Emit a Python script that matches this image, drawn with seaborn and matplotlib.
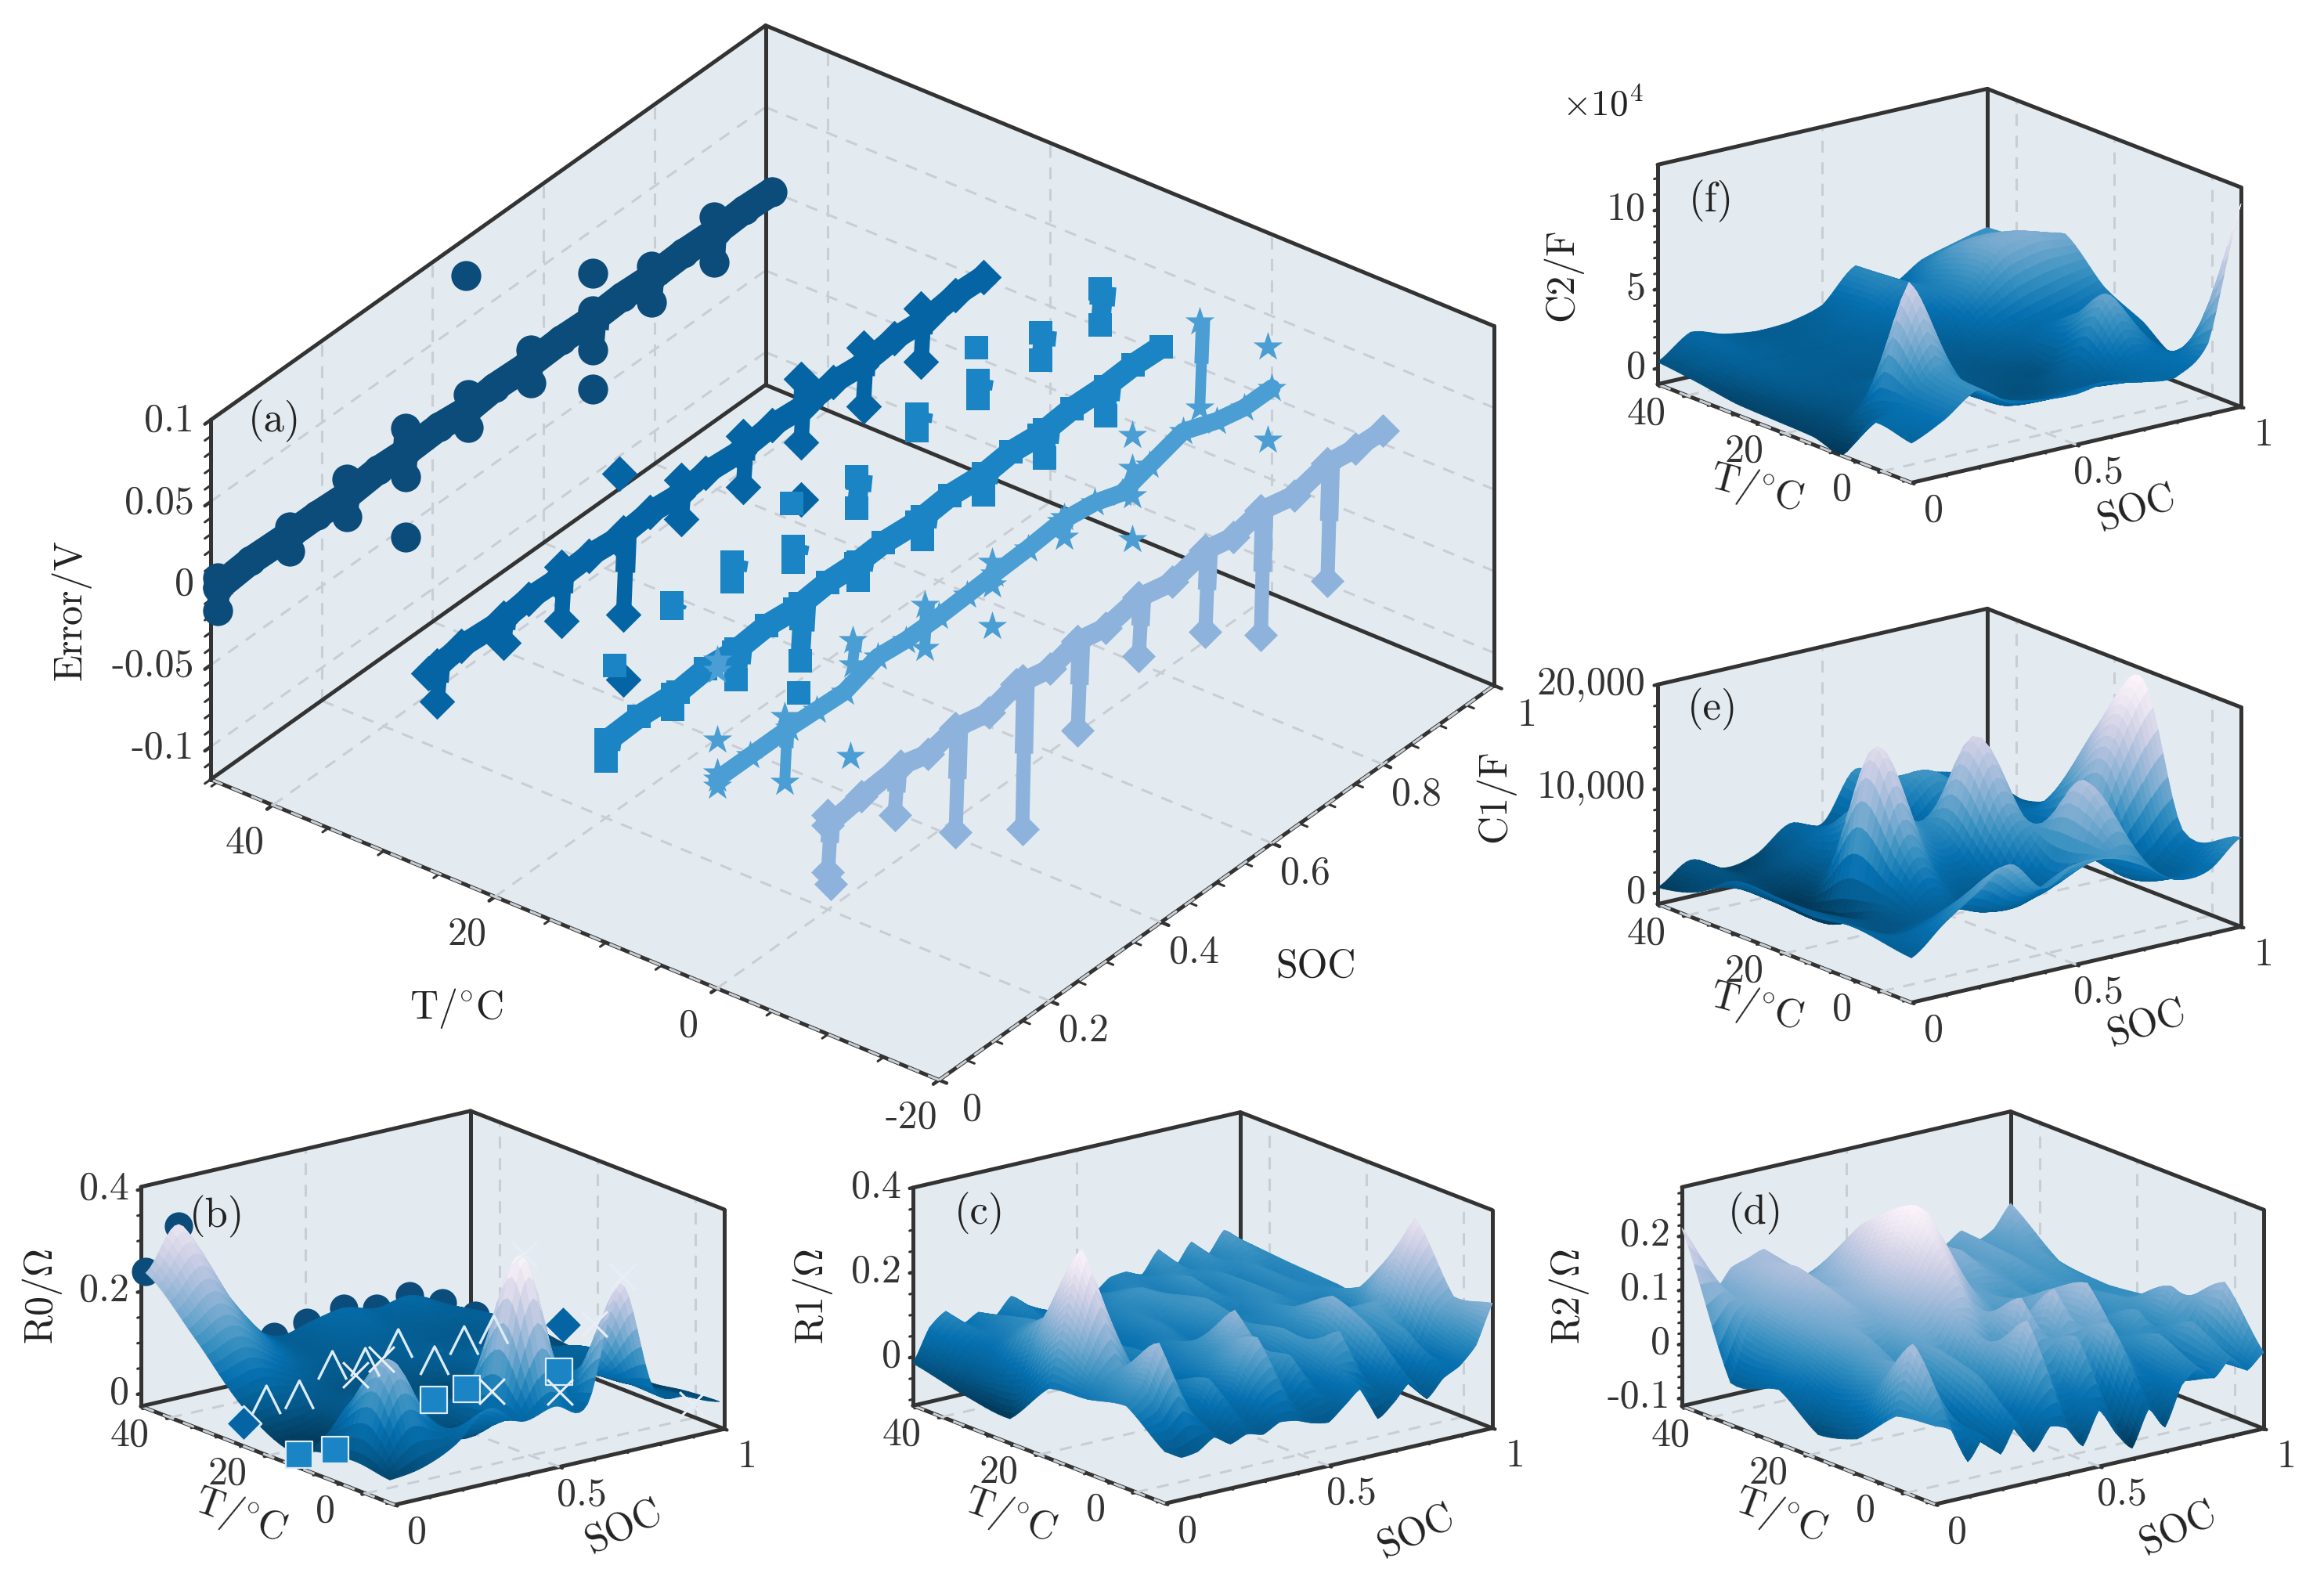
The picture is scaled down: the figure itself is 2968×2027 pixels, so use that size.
import numpy as np
import matplotlib
matplotlib.use("Agg")
import matplotlib.pyplot as plt
import seaborn as sns
from matplotlib.path import Path
from mpl_toolkits.mplot3d import proj3d

# ---------------- panel (a) series ----------------
line_soc = [0, .06, .13, .18, .23, .29, .34, .40, .45, .50, .56, .62, .68, .73, .78, .84, .90, .95, 1.0]
t_series = [45, 26, 10, 0, -10]
err_1 = [-.001, .001, 0, 0, -.001, .001, 0, .001, -.001, .001, 0, .001, 0, .001, 0, .001, 0, .001, 0]
err_2 = [0, .002, 0, .002, .001, .002, 0, .002, 0, .002, 0, .002, 0, .002, 0, .002, 0, .002, .001]
err_3 = [.003, .004, .002, .004, .002, .004, .002, .004, .003, .004, .002, .004, .002, .004, .002, .004, .003, .004, .003]
err_4 = [.008, .008, .008, .007, .006, .013, .011, .011, .012, .013, .014, .016, .013, .007, .012, .018, .010, .006, .006]
err_5 = [.008, .011, .013, .008, .012, .007, .012, .007, .012, .008, .012, .007, .012, .008, .012, .007, .012, .009, .008]

spike_soc_1 = [0, .13, .234, .339, .452, .565, .677, .782, .895]
spike_hi_1 = [.005, .005, .009, .015, .008, .008, .005, .007, .010]
spike_lo_1 = [-.015, -.010, -.014, -.015, -.012, -.012, -.019, -.015, -.018]
iso_soc_1 = [.339, .448, .677, .677]
iso_err_1 = [-.052, .082, .028, -.043]

spike_soc_2 = [.016, .136, .24, .352, .456, .568, .672, .784, .888]
spike_hi_2 = [.001, .001, .007, .001, .008, .008, .018, .010, .009]
spike_lo_2 = [-.021, -.014, -.026, -.049, -.016, -.023, -.021, -.026, -.024]
iso_soc_2 = [.344, .352, .672]
iso_err_2 = [.039, -.089, -.056]

spike_soc_3 = [0, .12, .235, .35, .455, .57, .68, .79, .90,
               .119, .228, .338, .452, .561, .67, .784, .891]
spike_hi_3 = [.004, .003, .003, .003, .003, .003, .003, .003, .003,
              .059, .058, .041, .056, .068, .062, .064, .065]
spike_lo_3 = [-.009, -.006, -.016, -.032, -.008, -.011, -.010, -.014, -.015,
              .056, .046, .031, .037, .058, .051, .047, .043]
iso_soc_3 = [.347, .335, .667, .016]
iso_err_3 = [-.051, .068, .083, .0455]

spike_soc_4 = [0, 0, .122, .244, .374, .496, .626, .748, .87]
spike_hi_4 = [.012, .081, .017, .034, .024, .021, .017, .018, .078]
spike_lo_4 = [.004, .075, -.023, .019, -.002, .007, .005, .001, .025]
iso_soc_4 = [0, .24, .496, .748, .748, .992, .992]
iso_err_4 = [.032, -.036, -.018, .038, -.026, .033, -.024]

spike_soc_5 = [0, .12, .23, .35, .45, .56, .68, .78, .90]
spike_hi_5 = [.014, .012, .012, .012, .012, .012, .012, .012, .012]
spike_lo_5 = [-.021, -.015, -.052, -.079, -.043, -.024, -.038, -.064, -.060]
iso_soc_5 = [.005]
iso_err_5 = [-.029]

series_colors = ["#0B4C7A", "#0565A4", "#1A84C4", "#4B9ED3", "#8DB3DC"]
series_markers = ["o", "D", "s", "*", "D"]
series_sizes = [190, 135, 120, 200, 120]
line_widths = [13, 10.5, 10.5, 8, 9]
stem_widths = [10, 7, 9, 5, 6.5]

# ---------------- surfaces ----------------
soc11 = [0, .1, .2, .3, .4, .5, .6, .7, .8, .9, 1.0]
soc21 = [0, .05, .1, .15, .2, .25, .3, .35, .4, .45, .5, .55, .6, .65, .7, .75, .8, .85, .9, .95, 1.0]

t_b = [45, 35, 25, 15, 10, 2, -5]
r0 = [[.24, .32, .20, .10, .057, .07, .082, .067, .077, .048, .01],
      [.15, .18, .12, .07, .05, .06, .06, .05, .05, .06, .03],
      [.05, .06, .05, .04, .04, .04, .05, .06, .05, .04, .02],
      [.0, .01, .05, .06, .04, .03, .02, .13, .06, .07, .03],
      [.02, .10, .12, .05, .05, .10, .06, .08, .06, .03, .01],
      [.03, .21, .10, .03, .07, .36, .08, .12, .07, .04, .02],
      [.02, .03, .06, .115, .075, .09, .08, .30, .08, .05, .025]]

t_fine = [46, 36, 26, 18, 10, 2, -6]
r1 = [[-.015, .06, .09, .05, .07, .05, .09, .06, .04, .03, .06, .05, .08, .085, .07, .12, .07, .12, .08, .13, .10],
      [-.042, .01, .05, .08, .10, .06, .05, .04, .07, .08, .10, .11, .09, .07, .11, .07, .10, .07, .10, .08, .09],
      [-.057, .06, .16, .17, .12, .08, .07, .05, .06, .09, .07, .10, .12, .08, .07, .09, .10, .08, .09, .085, .083],
      [.05, .20, .36, .25, .12, .06, .08, .06, .09, .07, .05, .08, .10, .07, .09, .11, .06, .08, .05, .12, .076],
      [.06, .10, .12, .07, .04, .06, .03, .08, .12, .19, .08, .06, .12, .05, .09, .17, .06, .13, .14, .24, .31],
      [.08, .12, .21, .08, .03, .10, .04, .12, .17, .06, .11, .04, .10, .14, .04, .13, .03, .11, .05, .13, .16],
      [.007, -.015, -.01, .015, -.01, .005, -.005, .015, .01, -.005, -.012, .02, .05, -.03, .0, .04, -.01, .03, .05, .09, .18]]
r2 = [[.214, .16, .085, .12, .13, .14, .10, .07, .08, .09, .10, .09, .11, .10, .09, .08, .07, .09, .065, .08, .12],
      [-.037, .05, .10, .13, .15, .12, .10, .14, .20, .18, .14, .12, .10, .09, .11, .08, .07, .08, .06, .07, .048],
      [-.015, .03, .08, .10, .12, .10, .14, .20, .27, .25, .19, .12, .08, .07, .05, .06, .04, .05, .05, .04, .039],
      [-.07, .0, .06, .09, .05, .08, .12, .15, .19, .13, .08, .06, .05, .08, .10, .07, .04, .03, .06, .05, .048],
      [-.05, .03, .08, .05, .02, .08, .04, .10, .06, .04, .14, .05, .143, .06, .14, .05, .03, .07, .03, .10, .07],
      [.02, .146, .08, .0, -.03, .06, .0, .05, .14, .03, .01, .09, .0, .10, .03, .0, .06, -.03, .07, .0, .128],
      [.03, .015, -.05, -.01, -.05, 0, -.06, -.02, -.03, -.07, -.01, -.06, -.095, -.03, -.07, .0, .025, .0, .03, .0, .026]]

t_c1 = [46, 38, 30, 22, 14, 6, -6]
c1 = [[500, 2400, 900, 1500, 3700, 3000, 7500, 5000, 5600, 5000, 4000],
      [1500, 2000, 1500, 3000, 5000, 4000, 6000, 8000, 6000, 4500, 3000],
      [4000, 1500, 300, 4000, 9000, 6000, 3000, 4000, 5000, 4500, 5500],
      [3800, 2000, 1000, 16000, 9000, 7000, 15000, 8000, 3000, 9000, 14000],
      [3500, 2500, 2500, 8000, 4000, 4000, 9000, 6000, 4000, 13000, 19000],
      [4000, 2500, 3000, 3500, 2500, 2500, 5000, 13000, 3500, 3500, 6000],
      [3200, 5800, 8000, 10000, 7000, 8500, 8400, 7000, 4900, 5000, 7500]]

t_c2 = [46, 38, 30, 22, 14, 8, 2, -6]
c2 = [[.4, 1.8, 1.2, .9, 1.0, 1.6, 3.6, 1.8, 3.0, 3.6, 4.1],
      [.1, 1.5, 1.2, 1.0, 1.3, 2.0, 3.5, 3.0, 5.0, 5.2, 4.4],
      [-.3, 1.0, 1.0, 1.0, 1.2, 1.5, 1.5, 3.5, 5.5, 6.0, 5.6],
      [-.4, .5, .8, .8, 1.0, .8, .7, 1.5, 2.0, 2.5, 3.2],
      [-.5, .3, 1.5, 3.0, .7, .5, .3, .4, 3.5, 2.5, 1.95],
      [-.9, 2.0, 9.0, 3.5, .8, .3, .3, 1.5, 5.4, 2.5, .6],
      [1.9, 2.5, 4.5, 2.5, 1.0, .8, 1.0, 1.0, 2.5, 2.0, 1.5],
      [1.5, 2.5, 3.9, 2.6, 2.3, 2.2, 2.5, 2.0, 1.8, 3.5, 11.8]]

# markers showing through panel (b)
b_circle_soc = [0, .10, .39, .49, .60, .70, .80, .90, 1.0]
b_circle_val = [.243, .317, .057, .07, .082, .067, .077, .048, .009]
b_dia_soc = [.07, .17, .27, .37, .47, .58, .67, .76]
b_dia_val = [.055, .05, .093, .084, .106, .056, .082, .09]
b_sq_soc = [.02, .13, .43, .53, .81]
b_sq_val = [-.008, -.015, .039, .045, .037]
b_x_soc = [.0, .077, .51, .31, .515, .62, .705, .917]
b_x_t = [2, 2, 2, -5, -5, -5, -5, -5]
b_x_val = [.20, .22, .36, .147, .116, .233, .313, .031]

z_ticks_a = [-.1, -.05, 0, .05, .1]
z_labels_a = ["-0.1", "-0.05", "0", "0.05", "0.1"]

# ---------------- style ----------------
sns.set_theme(style="white")
plt.rcParams["font.family"] = ["cmr10", "DejaVu Serif"]
plt.rcParams["mathtext.fontset"] = "cm"
plt.rcParams["axes.formatter.use_mathtext"] = True
plt.rcParams["axes.unicode_minus"] = False
INK = "#333333"
PANE = "#E4EBF0"
GRID = "#C8CED3"
FS = 18
cmap = sns.color_palette("PuBu_r", as_cmap=True)
W, H = 2968, 2027
fig = plt.figure(figsize=(W / 200, H / 200), dpi=200, facecolor="white")


def place(ax, x0, x1, ytop, ybot):
    """Scale and shift the 3D axes so its box spans these pixel bounds."""
    S = 1000.0
    ax.set_position([(W / 2 - S / 2) / W, (H / 2 - S / 2) / H, S / W, S / H])
    ax.apply_aspect()
    xl, yl, zl = ax.get_xlim(), ax.get_ylim(), ax.get_zlim()
    px = []
    for a in xl:
        for b in yl:
            for c in zl:
                u, v, _ = proj3d.proj_transform(a, b, c, ax.get_proj())
                px.append(ax.transData.transform((u, v)))
    px = np.array(px)
    k = (x1 - x0) / (px[:, 0].max() - px[:, 0].min())
    bx = (px[:, 0].max() + px[:, 0].min()) / 2 - W / 2
    by = (px[:, 1].max() + px[:, 1].min()) / 2 - H / 2
    cx = (x0 + x1) / 2 - bx * k
    cy = H - (ytop + ybot) / 2 - by * k
    S2 = S * k
    ax.set_position([(cx - S2 / 2) / W, (cy - S2 / 2) / H, S2 / W, S2 / H])


def frame(ax, xlim, ylim, zlim, xt, xl, xm, yt, yl, ym, zt, zl, zm, zgrid, pad=(1, 1, 1), vay="bottom"):
    ax.set_facecolor("none")
    ax.patch.set_alpha(0)
    ax.grid(False)
    for axis in (ax.xaxis, ax.yaxis, ax.zaxis):
        axis.set_pane_color(PANE)
        axis.pane.set_edgecolor("none")
        axis.line.set_color(INK)
        axis.line.set_linewidth(1.8)
        axis._axinfo["tick"].update(inward_factor=.13, outward_factor=0,
                                    color=INK, linewidth={True: 1.6, False: 1.1})
    ax.set_xticks(xt, labels=xl, fontsize=FS)
    ax.set_yticks(yt, labels=yl, fontsize=FS)
    ax.set_zticks(zt, labels=zl, fontsize=FS)
    ax.set_xticks(xm, minor=True)
    ax.set_yticks(ym, minor=True)
    ax.set_zticks(zm, minor=True)
    ax.tick_params(axis="x", which="both", colors=INK, pad=pad[0])
    ax.tick_params(axis="y", which="both", colors=INK, pad=pad[1])
    ax.tick_params(axis="z", which="both", colors=INK, pad=pad[2])
    plt.setp(ax.get_xticklabels(), va="center")
    plt.setp(ax.get_yticklabels(), va=vay)
    plt.setp(ax.get_zticklabels(), ha="right", va="center")
    ax.zaxis.set_ticks_position("upper")
    ax.set_xlim(*xlim)
    ax.set_ylim(*ylim)
    ax.set_zlim(*zlim)
    # back frame
    x0, x1 = xlim
    y0, y1 = ylim
    z0, z1 = zlim
    edges = [([x0, x1], [y1, y1], [z0, z0]), ([x1, x1], [y0, y1], [z0, z0]),
             ([x0, x1], [y1, y1], [z1, z1]), ([x1, x1], [y0, y1], [z1, z1]),
             ([x1, x1], [y1, y1], [z0, z1]), ([x0, x0], [y1, y1], [z0, z1]),
             ([x1, x1], [y0, y0], [z0, z1])]
    for ex, ey, ez in edges:
        ax.plot(ex, ey, ez, color=INK, lw=1.8, zorder=1, solid_capstyle="round")
    gk = dict(color=GRID, lw=1.1, ls=(0, (5, 4)), zorder=.5)
    for v in xt:
        ax.plot([v, v], [y1, y1], [z0, z1], **gk)
        ax.plot([v, v], [y0, y1], [z0, z0], **gk)
    for v in yt:
        ax.plot([x1, x1], [v, v], [z0, z1], **gk)
        ax.plot([x0, x1], [v, v], [z0, z0], **gk)
    if zgrid:
        for v in zt:
            ax.plot([x0, x1], [y1, y1], [v, v], **gk)
            ax.plot([x1, x1], [y0, y1], [v, v], **gk)


def spline(v, n, blend):
    """Curve through the read values, for shading between the nodes."""
    p = np.r_[v[0], v, v[-1]]
    t = np.arange(n) / n
    out = []
    for i in range(len(v) - 1):
        a, b, c, d = p[i], p[i + 1], p[i + 2], p[i + 3]
        cur = .5 * (2 * b + (c - a) * t + (2 * a - 5 * b + 4 * c - d) * t ** 2
                    + (3 * b - a - 3 * c + d) * t ** 3)
        out.append(blend * cur + (1 - blend) * (b + (c - b) * t))
    out.append([v[-1]])
    return np.concatenate(out)


def refine(soc, t, vals, n, blend):
    soc, t, vals = np.array(soc), np.array(t, float), np.array(vals, float)
    u = np.interp(np.linspace(0, len(soc) - 1, (len(soc) - 1) * n + 1), np.arange(len(soc)), soc)
    w = np.interp(np.linspace(0, len(t) - 1, (len(t) - 1) * n + 1), np.arange(len(t)), t)
    a = np.array([spline(r, n, blend) for r in vals])
    b = np.array([spline(c, n, blend) for c in a.T]).T
    X, Y = np.meshgrid(u, w)
    return X, Y, b


def surface(ax, soc, t, vals, blend=1.0):
    X, Y, Z = refine(soc, t, vals, 8, blend)
    surf = ax.plot_surface(X, Y, Z, cmap=cmap, vmin=np.min(vals), vmax=np.max(vals) * 1.02,
                           rstride=1, cstride=1, linewidth=.3,
                           antialiased=True, shade=False, zorder=3)
    surf.set_edgecolor("face")


def new_ax(el, az, k):
    ax = fig.add_axes([.1, .1, .2, .2], projection="3d", proj_type="ortho", computed_zorder=False)
    ax.view_init(elev=el, azim=az)
    ax.set_box_aspect((1, 1, k))
    return ax


def label(x, y, s, rot=0, fs=FS):
    fig.text(x / W, 1 - y / H, s, rotation=rot, fontsize=fs, ha="center", va="center",
             color="#222222", rotation_mode="anchor")


# ---------------- panel (a) ----------------
ax = new_ax(32.8, -142.7, .467)
frame(ax, (0, 1), (-20, 45.6), (-.12, .1),
      [0, .2, .4, .6, .8, 1], ["0", "0.2", "0.4", "0.6", "0.8", "1"], np.arange(0, 1.01, .05),
      [-20, 0, 20, 40], ["-20", "0", "20", "40"], np.arange(-20, 46, 5),
      z_ticks_a, z_labels_a, np.arange(-.12, .101, .01), True, pad=(6.5, 8, -4), vay="center")
errs = [err_1, err_2, err_3, err_4, err_5]
sp = [(spike_soc_1, spike_hi_1, spike_lo_1, iso_soc_1, iso_err_1),
      (spike_soc_2, spike_hi_2, spike_lo_2, iso_soc_2, iso_err_2),
      (spike_soc_3, spike_hi_3, spike_lo_3, iso_soc_3, iso_err_3),
      (spike_soc_4, spike_hi_4, spike_lo_4, iso_soc_4, iso_err_4),
      (spike_soc_5, spike_hi_5, spike_lo_5, iso_soc_5, iso_err_5)]
for i, T in enumerate(t_series):
    col, mk, ms = series_colors[i], series_markers[i], series_sizes[i]
    zo = 4 + i
    n = len(line_soc)
    ax.plot(line_soc, [T] * n, errs[i], color=col, lw=line_widths[i], zorder=zo,
            solid_capstyle="round", solid_joinstyle="round")
    ss, hi, lo, iso_s, iso_e = sp[i]
    for s, h, l in zip(ss, hi, lo):
        mid = (h + l) / 2
        ax.plot([s, s + .006], [T, T], [l, h], color=col, lw=stem_widths[i], zorder=zo,
                solid_capstyle="butt")
        ax.plot([s + .003, s + .006], [T, T], [mid, h], color=col, lw=stem_widths[i] * 1.3,
                zorder=zo, solid_capstyle="butt")
    allx = list(ss) + list(ss) + list(iso_s) + list(line_soc)
    allz = list(hi) + list(lo) + list(iso_e) + list(errs[i])
    ax.scatter(allx, [T] * len(allx), allz, marker=mk, s=ms, color=col, linewidths=0,
               depthshade=False, zorder=zo)
place(ax, 269, 1908, 34, 1378)
label(91, 779, "Error/V", 90)
label(583, 1288, "T/$^{\\circ}$C")
label(1680, 1235, "SOC")
label(351, 538, "(a)", fs=19)

# ---------------- small panels ----------------
SOC_T, SOC_L = [0, .5, 1], ["0", "0.5", "1"]
SOC_M = np.arange(0, 1.01, .1)
T_T, T_L = [0, 20, 40], ["0", "20", "40"]
T_M = np.arange(-5, 46, 5)
TL = (-6, 46)
geom = (17.4, -127.6, .553)
PADS = (5, 10, -5)

# (b)
ax = new_ax(*geom)
frame(ax, (0, 1), TL, (-.025, .405), SOC_T, SOC_L, SOC_M, T_T, T_L, T_M,
      [0, .2, .4], ["0", "0.2", "0.4"], np.arange(0, .41, .05), False, PADS)
ax.scatter(b_circle_soc, [45] * len(b_circle_soc), b_circle_val, marker="o", s=170,
           color=series_colors[0], linewidths=0, depthshade=False, zorder=2)
ax.scatter([.97], [25], [.068], marker="D", s=130, color=series_colors[1], linewidths=0,
           depthshade=False, zorder=2)
surface(ax, soc11, t_b, r0)
chev = Path([(-1, -1), (0, 1), (1, -1)])
ax.scatter(b_dia_soc, [25] * len(b_dia_soc), b_dia_val, marker=chev, s=170, facecolors="none",
           edgecolors="#DCEBF5", linewidths=1.2, depthshade=False, zorder=5)
ax.scatter([0], [25], [.02], marker="D", s=130, color=series_colors[1], edgecolors="#DCEBF5",
           linewidths=1, depthshade=False, zorder=5)
ax.scatter(b_sq_soc, [15] * len(b_sq_soc), b_sq_val, marker="s", s=150, color=series_colors[2],
           edgecolors="#DCEBF5", linewidths=.8, depthshade=False, zorder=5)
ax.scatter(b_x_soc, b_x_t, b_x_val, marker="x", s=140, color="#E8EEF6", linewidths=1.1,
           depthshade=False, zorder=5)
place(ax, 180, 925, 1419, 1922)
label(54, 1656, "R0/$\\Omega$", 90)
label(306, 1936, "T/$^{\\circ}$C", -20)
label(797, 1950, "SOC", 25)
label(277, 1554, "(b)", fs=19)

# (c)
ax = new_ax(*geom)
frame(ax, (0, 1), TL, (-.115, .4), SOC_T, SOC_L, SOC_M, T_T, T_L, T_M,
      [0, .2, .4], ["0", "0.2", "0.4"], np.arange(-.1, .41, .05), False, PADS)
surface(ax, soc21, t_fine, r1, blend=.4)
place(ax, 1166, 1906, 1419, 1922)
label(1038, 1656, "R1/$\\Omega$", 90)
label(1289, 1936, "T/$^{\\circ}$C", -20)
label(1809, 1956, "SOC", 25)
label(1251, 1550, "(c)", fs=19)

# (d)
ax = new_ax(*geom)
frame(ax, (0, 1), TL, (-.115, .29), SOC_T, SOC_L, SOC_M, T_T, T_L, T_M,
      [-.1, 0, .1, .2], ["-0.1", "0", "0.1", "0.2"], np.arange(-.1, .29, .02), False, PADS)
surface(ax, soc21, t_fine, r2, blend=.4)
place(ax, 2148, 2891, 1419, 1922)
label(2004, 1656, "R2/$\\Omega$", 90)
label(2273, 1936, "T/$^{\\circ}$C", -20)
label(2782, 1952, "SOC", 25)
label(2242, 1550, "(d)", fs=19)

# (e)
ax = new_ax(*geom)
frame(ax, (0, 1), TL, (-1100, 20000), SOC_T, SOC_L, SOC_M, T_T, T_L, T_M,
      [0, 10000, 20000], ["0", "10,000", "20,000"], np.arange(0, 20001, 2000), False, PADS)
surface(ax, soc11, t_c1, c1)
place(ax, 2117, 2862, 778, 1280)
label(1910, 1017, "C1/F", 90)
label(2242, 1286, "T/$^{\\circ}$C", -15)
label(2742, 1308, "SOC", 18)
label(2187, 906, "(e)", fs=19)

# (f)
ax = new_ax(*geom)
frame(ax, (0, 1), TL, (-1, 12.85), SOC_T, SOC_L, SOC_M, T_T, T_L, T_M,
      [0, 5, 10], ["0", "5", "10"], np.arange(0, 12.1, 1), False, PADS)
surface(ax, soc11, t_c2, c2, blend=.6)
place(ax, 2117, 2862, 113, 617)
label(1995, 351, "C2/F", 90)
label(2242, 624, "T/$^{\\circ}$C", -15)
label(2729, 650, "SOC", 18)
label(2185, 257, "(f)", fs=19)
label(2047, 133, "$\\times 10^{4}$", fs=17)

fig.savefig("out.png", dpi=200, facecolor="white")
